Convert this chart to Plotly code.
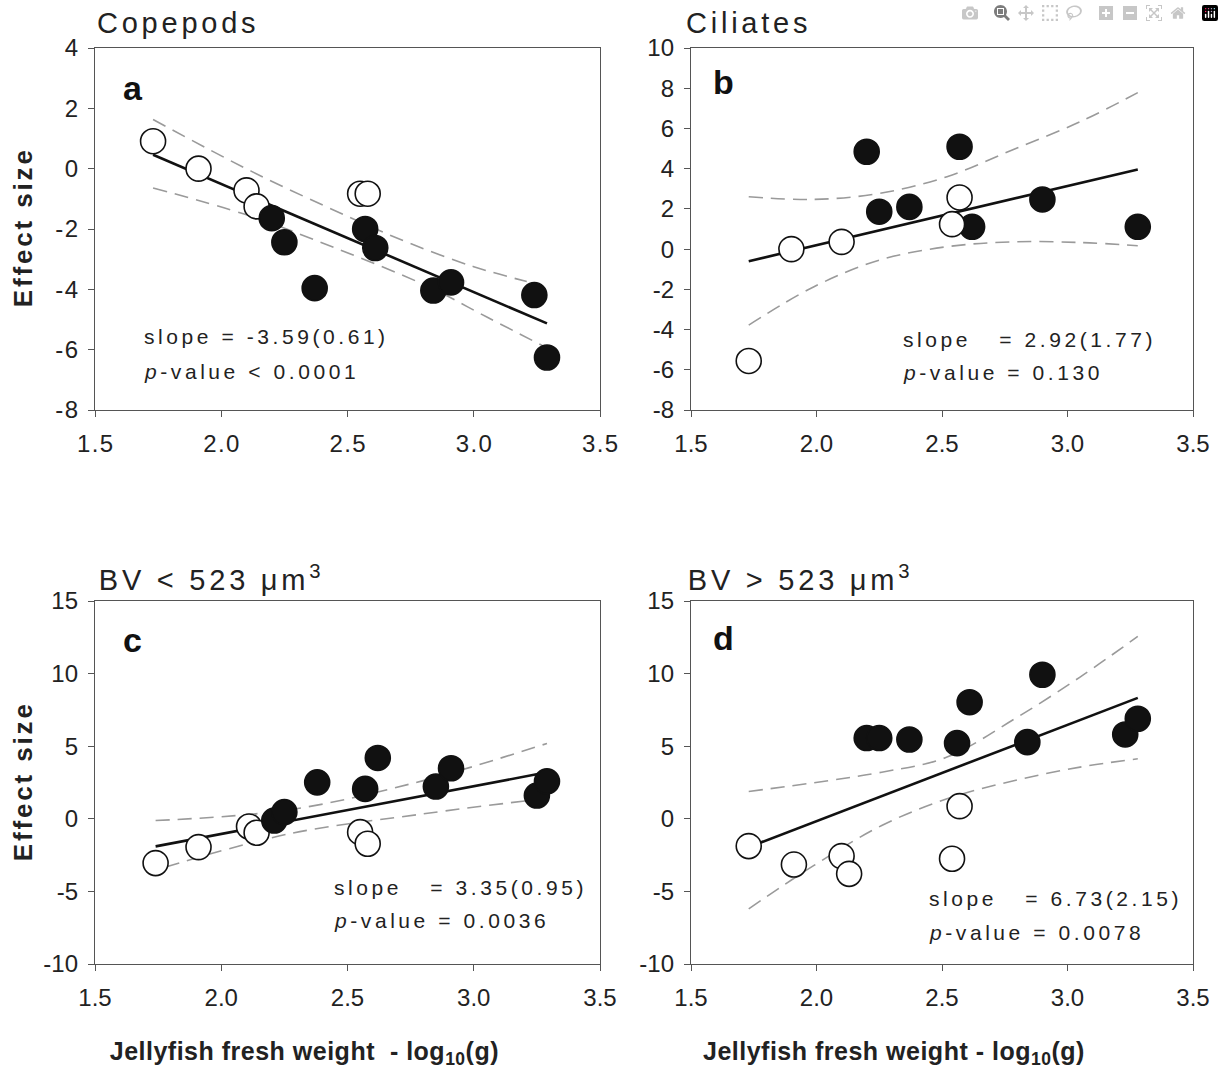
import plotly.graph_objects as go

W, H = 1224, 1084

# ---------------- data ----------------
# Panel a: Copepods
a_open_x = [1.73, 1.91, 2.10, 2.14, 2.55, 2.58]
a_open_y = [0.91, 0.00, -0.72, -1.25, -0.83, -0.83]
a_fill_x = [2.20, 2.25, 2.37, 2.57, 2.61, 2.84, 2.91, 3.24, 3.29]
a_fill_y = [-1.64, -2.44, -3.96, -2.00, -2.63, -4.04, -3.77, -4.19, -6.26]
a_fit_x = [1.73, 3.29]
a_fit_y = [0.46, -5.13]
a_up_x = [1.73, 2.12, 2.50, 2.74, 3.00, 3.21]
a_up_y = [1.63, -0.09, -1.58, -2.45, -3.25, -3.74]
a_lo_x = [1.73, 2.10, 2.47, 2.82, 3.05, 3.28]
a_lo_y = [-0.64, -1.53, -2.69, -3.91, -4.91, -5.90]

# Panel b: Ciliates
b_open_x = [1.73, 1.90, 2.10, 2.54, 2.57]
b_open_y = [-5.56, 0.00, 0.36, 1.24, 2.57]
b_fill_x = [2.20, 2.25, 2.37, 2.57, 2.62, 2.90, 3.28]
b_fill_y = [4.84, 1.86, 2.10, 5.09, 1.11, 2.47, 1.11]
b_fit_x = [1.73, 3.28]
b_fit_y = [-0.60, 3.96]
b_band_x = [1.73, 1.99, 2.25, 2.52, 2.78, 3.05, 3.28]
b_up_y = [2.60, 2.47, 2.77, 3.60, 4.93, 6.33, 7.78]
b_lo_y = [-3.78, -1.87, -0.55, 0.12, 0.36, 0.33, 0.17]

# Panel c: BV < 523 um3
c_open_x = [1.74, 1.91, 2.11, 2.14, 2.55, 2.58]
c_open_y = [-3.05, -1.95, -0.53, -0.96, -0.92, -1.72]
c_fill_x = [2.21, 2.25, 2.38, 2.57, 2.62, 2.85, 2.91, 3.25, 3.29]
c_fill_y = [-0.12, 0.46, 2.51, 2.06, 4.19, 2.22, 3.48, 1.60, 2.58]
c_fit_x = [1.74, 3.29]
c_fit_y = [-1.90, 3.20]
c_up_x = [1.74, 2.27, 2.80, 3.29]
c_up_y = [-0.12, 0.62, 2.63, 5.19]
c_lo_x = [1.78, 2.27, 2.80, 3.25]
c_lo_y = [-3.32, -1.03, 0.34, 1.33]

# Panel d: BV > 523 um3
d_open_x = [1.73, 1.91, 2.10, 2.13, 2.54, 2.57]
d_open_y = [-1.88, -3.15, -2.57, -3.79, -2.75, 0.87]
d_fill_x = [2.20, 2.25, 2.37, 2.56, 2.61, 2.84, 2.90, 3.23, 3.28]
d_fill_y = [5.56, 5.56, 5.46, 5.21, 8.03, 5.28, 9.92, 5.81, 6.89]
d_fit_x = [1.73, 3.28]
d_fit_y = [-1.95, 8.33]
d_up_x = [1.73, 2.26, 2.52, 2.79, 3.05, 3.28]
d_up_y = [1.88, 3.21, 4.25, 6.89, 9.76, 12.56]
d_lo_x = [1.73, 1.99, 2.26, 2.52, 2.79, 3.05, 3.28]
d_lo_y = [-6.20, -3.21, -0.46, 1.38, 2.64, 3.56, 4.13]

x_ticks = [1.5, 2.0, 2.5, 3.0, 3.5]
x_tick_text = ["1.5", "2.0", "2.5", "3.0", "3.5"]
y_ticks_top_a = [-8, -6, -4, -2, 0, 2, 4]
y_ticks_top_b = [-8, -6, -4, -2, 0, 2, 4, 6, 8, 10]
y_ticks_bottom = [-10, -5, 0, 5, 10, 15]
y_ranges = {"a": [-8, 4], "b": [-8, 10], "c": [-10, 15], "d": [-10, 15]}
y_tick_sets = {"a": y_ticks_top_a, "b": y_ticks_top_b, "c": y_ticks_bottom, "d": y_ticks_bottom}

panel_titles = {"a": "Copepods", "b": "Ciliates",
                "c": "BV &lt; 523 μm<sup>3</sup>", "d": "BV &gt; 523 μm<sup>3</sup>"}
stat_lines = {
    "a": ["slope = -3.59(0.61)", "<i>p</i>-value &lt; 0.0001"],
    "b": ["slope\u00a0\u00a0\u00a0= 2.92(1.77)", "<i>p</i>-value = 0.130"],
    "c": ["slope\u00a0\u00a0\u00a0= 3.35(0.95)", "<i>p</i>-value = 0.0036"],
    "d": ["slope\u00a0\u00a0\u00a0= 6.73(2.15)", "<i>p</i>-value = 0.0078"],
}

panels = {
    "a": dict(ox=a_open_x, oy=a_open_y, fx=a_fill_x, fy=a_fill_y, lx=a_fit_x, ly=a_fit_y,
              ux=a_up_x, uy=a_up_y, dx=a_lo_x, dy=a_lo_y, open_on_top=False),
    "b": dict(ox=b_open_x, oy=b_open_y, fx=b_fill_x, fy=b_fill_y, lx=b_fit_x, ly=b_fit_y,
              ux=b_band_x, uy=b_up_y, dx=b_band_x, dy=b_lo_y, open_on_top=True),
    "c": dict(ox=c_open_x, oy=c_open_y, fx=c_fill_x, fy=c_fill_y, lx=c_fit_x, ly=c_fit_y,
              ux=c_up_x, uy=c_up_y, dx=c_lo_x, dy=c_lo_y, open_on_top=False),
    "d": dict(ox=d_open_x, oy=d_open_y, fx=d_fill_x, fy=d_fill_y, lx=d_fit_x, ly=d_fit_y,
              ux=d_up_x, uy=d_up_y, dx=d_lo_x, dy=d_lo_y, open_on_top=False),
}

# ---------------- layout geometry (pixels) ----------------
box = {  # left, right, top, bottom
    "a": (95, 600, 48, 410),
    "b": (691, 1193, 48, 410),
    "c": (95, 600, 601, 964),
    "d": (691, 1193, 601, 964),
}
axis_ids = {"a": ("x", "y"), "b": ("x2", "y2"), "c": ("x3", "y3"), "d": ("x4", "y4")}
title_pos = {"a": (95, 23), "b": (684, 23), "c": (93, 578), "d": (682, 578)}
letter_pos = {"a": (121, 88), "b": (711, 82), "c": (121, 640), "d": (711, 638)}
stat_pos = {"a": (142, 337, 371), "b": (901, 339, 373), "c": (332, 887, 920), "d": (927, 898, 932)}

FONT = "Liberation Sans, Arial, sans-serif"
AX = "#555555"
TXT = "#222222"

fig = go.Figure()
layout = dict(width=W, height=H, margin=dict(l=0, r=0, t=0, b=0, pad=0, autoexpand=False),
              paper_bgcolor="white", plot_bgcolor="white", showlegend=False,
              font=dict(family=FONT, color=TXT))
annotations = []


def px2paper(px, py):
    return px / W, 1 - py / H


for key, p in panels.items():
    xa, ya = axis_ids[key]
    l, r, t, b = box[key]
    xname = "xaxis" + xa[1:]
    yname = "yaxis" + ya[1:]
    yt = y_tick_sets[key]
    layout[xname] = dict(domain=[l / W, r / W], range=[1.5, 3.5], anchor=ya,
                         tickvals=x_ticks, ticktext=x_tick_text, ticks="outside",
                         ticklen=6, tickwidth=1.2, tickcolor=AX, showline=True,
                         linecolor=AX, linewidth=1.3, mirror=True, showgrid=False,
                         zeroline=False, ticklabelstandoff=6, automargin=False,
                         tickfont=dict(family=FONT, size=24, color=TXT))
    layout[yname] = dict(domain=[1 - b / H, 1 - t / H], range=y_ranges[key], anchor=xa,
                         tickvals=yt, ticktext=[str(v) for v in yt], ticks="outside",
                         ticklen=6, tickwidth=1.2, tickcolor=AX, showline=True,
                         linecolor=AX, linewidth=1.3, mirror=True, showgrid=False,
                         zeroline=False, ticklabelstandoff=5, automargin=False,
                         tickfont=dict(family=FONT, size=24, color=TXT))
    dash_style = dict(color="#9a9a9a", width=1.6, dash="14px,8px", shape="spline")
    fig.add_trace(go.Scatter(x=p["ux"], y=p["uy"], mode="lines", line=dash_style,
                             xaxis=xa, yaxis=ya, hoverinfo="skip"))
    fig.add_trace(go.Scatter(x=p["dx"], y=p["dy"], mode="lines", line=dash_style,
                             xaxis=xa, yaxis=ya, hoverinfo="skip"))
    fig.add_trace(go.Scatter(x=p["lx"], y=p["ly"], mode="lines",
                             line=dict(color="#111111", width=2.6),
                             xaxis=xa, yaxis=ya))
    open_tr = go.Scatter(x=p["ox"], y=p["oy"], mode="markers", xaxis=xa, yaxis=ya,
                         marker=dict(size=25, color="white",
                                     line=dict(color="#111111", width=1.6)))
    fill_tr = go.Scatter(x=p["fx"], y=p["fy"], mode="markers", xaxis=xa, yaxis=ya,
                         marker=dict(size=25, color="#111111",
                                     line=dict(color="#111111", width=1.6)))
    if p["open_on_top"]:
        fig.add_trace(fill_tr)
        fig.add_trace(open_tr)
    else:
        fig.add_trace(open_tr)
        fig.add_trace(fill_tr)

    # panel title
    tx, ty = px2paper(*title_pos[key])
    annotations.append(dict(x=tx, y=ty, xref="paper", yref="paper", xanchor="left",
                            yanchor="middle", showarrow=False, text=panel_titles[key],
                            font=dict(family=FONT, size=29, color=TXT)))
    # panel letter
    lx_, ly_ = px2paper(*letter_pos[key])
    annotations.append(dict(x=lx_, y=ly_, xref="paper", yref="paper", xanchor="left",
                            yanchor="middle", showarrow=False, text="<b>%s</b>" % key,
                            font=dict(family=FONT, size=34, color="#111111")))
    # stats text
    sx, sy1, sy2 = stat_pos[key]
    for line_txt, sy in zip(stat_lines[key], (sy1, sy2)):
        ax_, ay_ = px2paper(sx, sy)
        annotations.append(dict(x=ax_, y=ay_, xref="paper", yref="paper", xanchor="left",
                                yanchor="middle", showarrow=False, text=line_txt,
                                font=dict(family=FONT, size=21, color=TXT)))

# y-axis titles
for cy in (229, 783):
    ax_, ay_ = px2paper(23, cy)
    annotations.append(dict(x=ax_, y=ay_, xref="paper", yref="paper", xanchor="center",
                            yanchor="middle", showarrow=False, textangle=-90,
                            text="<b>Effect size</b>",
                            font=dict(family=FONT, size=26, color=TXT)))
# x-axis titles
for cx, txt in ((304, "<b>Jellyfish fresh weight\u00a0\u00a0- log<sub>10</sub>(g)</b>"),
                (893, "<b>Jellyfish fresh weight - log<sub>10</sub>(g)</b>")):
    ax_, ay_ = px2paper(cx, 1053)
    annotations.append(dict(x=ax_, y=ay_, xref="paper", yref="paper", xanchor="center",
                            yanchor="middle", showarrow=False, text=txt,
                            font=dict(family=FONT, size=25, color=TXT)))

layout["annotations"] = annotations
fig.update_layout(**layout)

# widen letter spacing like the reference typesetting, keeping each text's anchor
post = """
document.body.style.margin='0';
document.body.style.overflow='hidden';
function shift(t, dx){
  var tr = t.getAttribute('transform') || '';
  t.setAttribute('transform', 'translate(' + dx.toFixed(2) + ',0) ' + tr);
}
document.querySelectorAll('.xtick text, .ytick text').forEach(function(t){
  var fs = parseFloat(t.style.fontSize) || 20;
  var sp = 0.06 * fs;
  t.style.letterSpacing = sp.toFixed(2) + 'px';
  var isY = t.parentNode && t.parentNode.classList.contains('ytick');
  shift(t, isY ? sp : sp / 2);
});
document.querySelectorAll('.annotation-text').forEach(function(t){
  var fs = parseFloat(t.style.fontSize) || 20;
  var txt = t.textContent || '';
  var n = txt.length;
  var sp, leftAnchored = true;
  if (txt.indexOf('Effect') >= 0) { sp = 0.11 * fs; leftAnchored = false; }
  else if (txt.indexOf('Jellyfish') >= 0) { sp = 0.02 * fs; leftAnchored = false; }
  else if (fs >= 33) { sp = 0; }
  else if (fs >= 28) { sp = 0.13 * fs; }
  else { sp = 0.17 * fs; }
  t.style.letterSpacing = sp.toFixed(2) + 'px';
  if (leftAnchored) { shift(t, sp * n / 2); } else { shift(t, sp / 2); }
});
"""
fig.write_html("out.html", post_script=post)
